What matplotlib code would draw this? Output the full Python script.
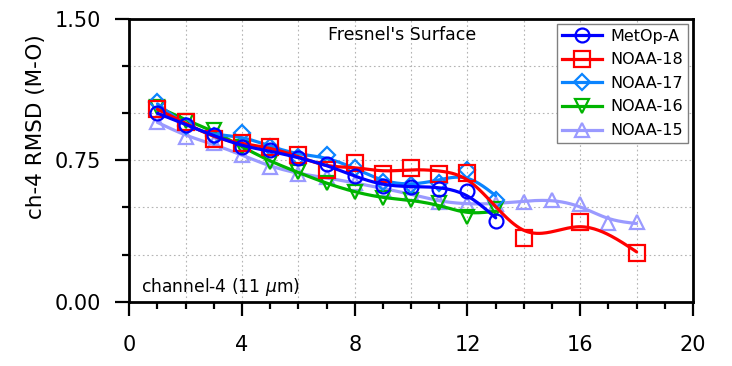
import numpy as np
import matplotlib
matplotlib.use("Agg")
import matplotlib.pyplot as plt
from matplotlib.ticker import MultipleLocator, FixedLocator

# ---- data ----
x_metop = [1, 2, 3, 4, 5, 6, 7, 8, 9, 10, 11, 12, 13]
metop_a = [1.00, 0.94, 0.885, 0.82, 0.805, 0.76, 0.73, 0.665, 0.615, 0.61, 0.60, 0.585, 0.43]

x_n18 = [1, 2, 3, 4, 5, 6, 7, 8, 9, 10, 11, 12, 14, 16, 18]
noaa18 = [1.02, 0.955, 0.865, 0.84, 0.82, 0.778, 0.70, 0.734, 0.675, 0.708, 0.677, 0.685, 0.336, 0.425, 0.257]

x_n17 = [1, 2, 3, 4, 5, 6, 7, 8, 9, 10, 11, 12, 13]
noaa17 = [1.06, 0.93, 0.88, 0.893, 0.82, 0.77, 0.778, 0.71, 0.635, 0.62, 0.63, 0.70, 0.54]

x_n16 = [1, 2, 3, 4, 5, 6, 7, 8, 9, 10, 11, 12, 13]
noaa16 = [1.035, 0.96, 0.91, 0.82, 0.743, 0.69, 0.628, 0.584, 0.548, 0.54, 0.525, 0.45, 0.49]

x_n15 = [1, 2, 3, 4, 5, 6, 7, 8, 9, 10, 11, 12, 13, 14, 15, 16, 17, 18]
noaa15 = [0.955, 0.875, 0.84, 0.78, 0.716, 0.68, 0.66, 0.63, 0.60, 0.575, 0.53, 0.52,
          0.52, 0.53, 0.54, 0.52, 0.416, 0.424]

labels = ["MetOp-A", "NOAA-18", "NOAA-17", "NOAA-16", "NOAA-15"]
x_ticks = [0, 4, 8, 12, 16, 20]
y_ticks = [0.00, 0.75, 1.50]


def smooth(xs, ys, lam=0.15, h=0.05):
    """Discrete smoothing spline (Whittaker) evaluated on a fine grid."""
    xs = np.asarray(xs, float)
    ys = np.asarray(ys, float)
    grid = np.arange(xs.min(), xs.max() + h / 2, h)
    n = len(grid)
    idx = np.rint((xs - xs.min()) / h).astype(int)
    W = np.zeros(n)
    Wy = np.zeros(n)
    W[idx] = 1.0
    Wy[idx] = ys
    D = np.diff(np.eye(n), 2, axis=0)
    A = np.diag(W) + lam / h ** 3 * D.T @ D
    f = np.linalg.solve(A, Wy)
    return grid, f


series = [
    (x_n15, noaa15, "NOAA-15", "#9a9aff", "^", 10.5),
    (x_n16, noaa16, "NOAA-16", "#00b400", "v", 10.5),
    (x_n17, noaa17, "NOAA-17", "#0a84ff", "D", 8.5),
    (x_n18, noaa18, "NOAA-18", "#ff0000", "s", 11.5),
    (x_metop, metop_a, "MetOp-A", "#0000ff", "o", 10),
]

fig = plt.figure(figsize=(7.32, 3.66), dpi=100)
ax = fig.add_axes([0.1766, 0.1757, 0.7701, 0.7724])

handles = {}
for i, (xs, ys, lab, col, mk, ms) in enumerate(series):
    gx, gy = smooth(xs, ys)
    ax.plot(gx, gy, color=col, lw=2.3, zorder=3 + i, solid_capstyle="round")
    ax.plot(xs, ys, ls="none", marker=mk, ms=ms, mfc="none", mec=col, mew=1.6, zorder=3 + i)
    h, = ax.plot([], [], color=col, lw=2.3, marker=mk, ms=ms, mfc="none", mec=col, mew=1.6)
    handles[lab] = h

ax.set_xlim(0, 20)
ax.set_ylim(0, 1.5)

ax.xaxis.set_major_locator(FixedLocator(x_ticks))
ax.xaxis.set_minor_locator(MultipleLocator(1))
ax.yaxis.set_major_locator(FixedLocator(y_ticks))
ax.yaxis.set_minor_locator(MultipleLocator(0.25))
ax.set_xticklabels([str(t) for t in x_ticks])
ax.set_yticklabels(["%.2f" % t for t in y_ticks])

ax.tick_params(axis="both", which="major", direction="out", length=10, width=1.6,
               labelsize=15)
ax.tick_params(axis="x", which="major", pad=14)
ax.tick_params(axis="y", which="major", pad=10)
ax.tick_params(axis="both", which="minor", direction="out", length=5, width=1.6)
ax.tick_params(top=False, right=False)

for s in ax.spines.values():
    s.set_linewidth(2.0)

# grid: dotted, every 2 in x, every 0.25 in y
for gxv in np.arange(2, 20, 2):
    ax.axvline(gxv, color="#b4b4b4", lw=0.8, ls=(0, (1.5, 2.5)), zorder=1)
for gyv in np.arange(0.25, 1.5, 0.25):
    ax.axhline(gyv, color="#b4b4b4", lw=0.8, ls=(0, (1.5, 2.5)), zorder=1)

ax.set_ylabel("ch-4 RMSD (M-O)", fontsize=15.5)
ax.yaxis.set_label_coords(-0.148, 0.618)

ax.text(9.67, 1.39, "Fresnel's Surface", fontsize=12.5, ha="center", va="baseline")
ax.text(0.40, 0.053, "channel-4 (11 $\\mu$m)", fontsize=12.3, ha="left", va="baseline")

leg = ax.legend([handles[l] for l in labels], labels, loc="upper right",
                bbox_to_anchor=(0.9915, 0.983), fontsize=11.5, frameon=True,
                fancybox=False, edgecolor="#808080", framealpha=1,
                handlelength=2.5, handletextpad=0.55, labelspacing=0.54,
                borderpad=0.3, borderaxespad=0.0)
leg.get_frame().set_linewidth(1.0)
leg.set_zorder(20)

fig.savefig("out.png", dpi=100)
